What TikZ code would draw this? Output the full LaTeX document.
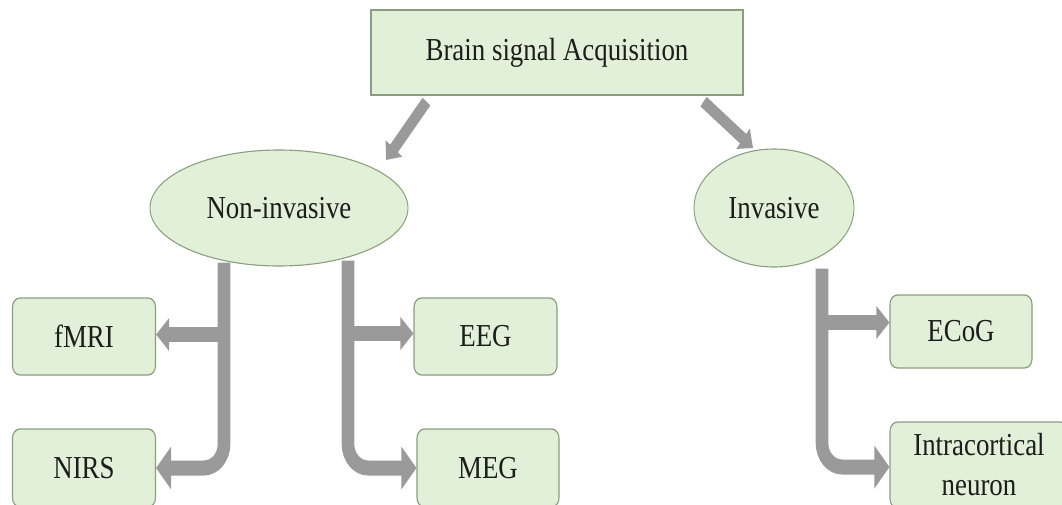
\documentclass[tikz,border=0pt]{standalone}
\usepackage{fontspec}
\setmainfont{Liberation Serif}
\usetikzlibrary{arrows.meta,shapes.geometric,calc}

\definecolor{boxfill}{HTML}{E2EFD9}
\definecolor{boxline}{HTML}{8A9E7E}
\definecolor{pipegray}{HTML}{9A9A9A}
\definecolor{inktext}{HTML}{1C1E1A}

% the whole drawing is set on a canvas narrowed to 0.84 of its width,
% so all sizes below are given in the narrowed frame
\tikzset{
  label font/.style={font=\fontsize{32}{40}\selectfont, text=inktext, align=center},
  headbox/.style={draw=boxline, line width=1.3pt, fill=boxfill, label font,
    minimum width={372pt/0.84}, minimum height=85pt, inner sep=0pt},
  oval/.style={ellipse, draw=boxline, line width=1.1pt, fill=boxfill, label font, inner sep=0pt},
  leaf/.style={draw=boxline, line width=1.3pt, fill=boxfill, rounded corners=9pt, label font,
    minimum width={143pt/0.84}, minimum height=77pt, inner sep=0pt},
  pipe/.style={draw=pipegray, line width=15pt,
    -{Triangle[width=32pt,length=15.5pt]}},
  bentpipe/.style={draw=pipegray, line width=15pt, rounded corners=24pt,
    -{Triangle[width=42pt,length=18pt]}},
  slantpipe/.style={draw=pipegray, line width=12pt,
    -{Triangle[width=25pt,length=15pt]}},
}

\begin{document}
\begin{tikzpicture}[x=1pt,y=-1pt]
\useasboundingbox (0,0) rectangle (1062,504);
\clip (0,0) rectangle (1062,504);

\begin{scope}[transform canvas={xscale=0.84}, x=1.190476pt, y=-1pt]
% root and the two families
\node[headbox] (root) at (557,52.5) {Brain signal Acquisition};
\node[oval, minimum width={258pt/0.84}, minimum height=116pt] (nonin) at (279,208) {Non-invasive};
\node[oval, minimum width={160pt/0.84}, minimum height=118pt] (inv) at (774,208) {Invasive};

% recording methods
\node[leaf] (fmri) at (84,336.5) {fMRI};
\node[leaf, minimum height=78pt] (nirs) at (84,468) {NIRS};
\node[leaf] (eeg) at (485.5,336.5) {EEG};
\node[leaf, minimum width={142pt/0.84}, minimum height=78pt] (meg) at (488,468) {MEG};
\node[leaf, minimum width={142pt/0.84}, minimum height=73pt] (ecog) at (961,331.5) {ECoG};
\node[leaf, minimum width={178pt/0.84}, minimum height=86pt] (intra) at (979,465) {Intracortical\\neuron};

% ends of the connectors
\coordinate (dl0) at ($(root.south west)+(56,6)$);
\coordinate (dl1) at ($(nonin.center)+(107,-48)$);
\coordinate (dr0) at ($(root.south east)+(-40,6)$);
\coordinate (dr1) at ($(inv.center)+(-21,-60)$);
\coordinate (tl) at ($(nonin.south)+(-55,-4)$);
\coordinate (tr) at ($(nonin.south)+(69,-6)$);
\coordinate (ti) at ($(inv.south)+(48,1)$);

% root to families
\draw[slantpipe] (dl0) -- (dl1);
\draw[slantpipe] (dr0) -- (dr1);

% non-invasive, left trunk
\draw[bentpipe] (tl) |- (nirs.east);
\draw[pipe] ($(fmri.east -| tl)+(0,-2)$) -- ($(fmri.east)+(0,-2)$);

% non-invasive, right trunk
\draw[bentpipe] (tr) |- (meg.west);
\draw[pipe] ($(eeg.west -| tr)+(0,-3)$) -- ($(eeg.west)+(0,-3)$);

% invasive trunk
\draw[bentpipe] (ti) |- ($(intra.west)+(0,2)$);
\draw[pipe] ($(ecog.west -| ti)+(0,-9)$) -- ($(ecog.west)+(0,-9)$);
\end{scope}
\end{tikzpicture}
\end{document}
